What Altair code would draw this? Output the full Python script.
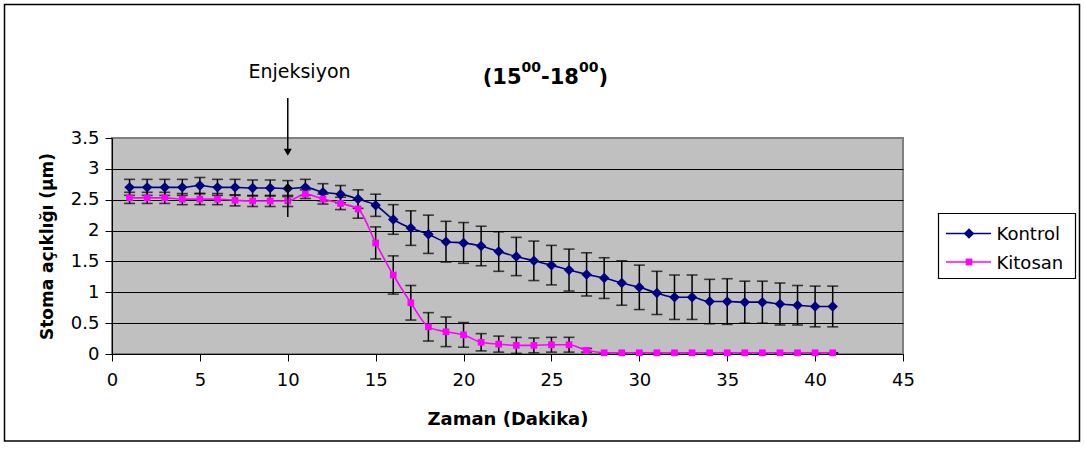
import altair as alt
import pandas as pd

# ---------------- data ----------------
minutes = list(range(1, 42))

kontrol = [2.70, 2.70, 2.70, 2.70, 2.73, 2.70, 2.70, 2.69, 2.69, 2.68,
           2.70, 2.62, 2.59, 2.51, 2.41, 2.18, 2.04, 1.94, 1.82, 1.80,
           1.75, 1.66, 1.58, 1.51, 1.44, 1.36, 1.29, 1.23, 1.15, 1.08,
           0.99, 0.92, 0.92, 0.85, 0.85, 0.84, 0.84, 0.81, 0.79, 0.77, 0.77]
kontrol_err = [0.13, 0.13, 0.13, 0.13, 0.13, 0.13, 0.13, 0.13, 0.13, 0.13,
               0.13, 0.14, 0.14, 0.15, 0.18, 0.24, 0.28, 0.31, 0.33, 0.33,
               0.32, 0.32, 0.31, 0.32, 0.32, 0.34, 0.35, 0.33, 0.36, 0.36,
               0.35, 0.36, 0.36, 0.36, 0.37, 0.34, 0.34, 0.34, 0.32, 0.33, 0.33]

kitosan = [2.53, 2.53, 2.53, 2.51, 2.51, 2.51, 2.49, 2.48, 2.48, 2.48,
           2.59, 2.51, 2.44, 2.35, 1.80, 1.28, 0.83, 0.44, 0.36, 0.31,
           0.19, 0.16, 0.14, 0.14, 0.15, 0.15, 0.06, 0.02, 0.02, 0.02,
           0.02, 0.02, 0.02, 0.02, 0.02, 0.02, 0.02, 0.02, 0.02, 0.02, 0.02]
kitosan_err = [0.09, 0.09, 0.09, 0.09, 0.09, 0.09, 0.09, 0.09, 0.09, 0.09,
               0.07, 0.08, 0.10, 0.15, 0.26, 0.31, 0.28, 0.23, 0.24, 0.20,
               0.14, 0.13, 0.13, 0.12, 0.12, 0.12, 0.03, 0.0, 0.0, 0.0,
               0.0, 0.0, 0.0, 0.0, 0.0, 0.0, 0.0, 0.0, 0.0, 0.0, 0.0]

series_names = ["Kontrol", "Kitosan"]
series_colors = ["#000080", "#FF00FF"]
series_shapes = ["diamond", "square"]
series_sizes = [110, 45]

x_ticks = [0, 5, 10, 15, 20, 25, 30, 35, 40, 45]
y_ticks = [0, 0.5, 1, 1.5, 2, 2.5, 3, 3.5]

# annotation arrows (data coordinates)
inj_arrow_x = [10]
inj_arrow_top = [4.15]
inj_arrow_head = [3.27]
up_arrow_bottom = [2.22]
up_arrow_head = [2.72]

# ---------------- tables ----------------
rows = []
for name, vals, errs in [("Kontrol", kontrol, kontrol_err), ("Kitosan", kitosan, kitosan_err)]:
    for m, v, e in zip(minutes, vals, errs):
        rows.append({"series": name, "t": m, "v": v, "lo": v - e, "hi": v + e})
df = pd.DataFrame(rows)

arrow_df = pd.DataFrame({"t": inj_arrow_x, "top": inj_arrow_top, "head": inj_arrow_head,
                         "ub": up_arrow_bottom, "uh": up_arrow_head})
one = pd.DataFrame({"k": [0]})

FONT = "DejaVu Sans"
PL, PT = 112, 138  # plot origin in page pixels
W, H = 791, 216

xs = alt.Scale(domain=[0, 45], nice=False)
ys = alt.Scale(domain=[0, 3.5], nice=False)
cs = alt.Scale(domain=series_names, range=series_colors)
ss = alt.Scale(domain=series_names, range=series_shapes)

x_axis = alt.Axis(values=x_ticks, grid=False, title="Zaman (Dakika)", format="~g",
                  domainColor="black", tickColor="black", tickSize=7,
                  labelFontSize=18, labelFont=FONT, labelColor="black",
                  labelPadding=10, labelFlush=False, labelOverlap=False,
                  titleFont=FONT, titleFontSize=18, titleFontWeight="bold",
                  titleColor="black", titlePadding=21)
y_axis = alt.Axis(values=y_ticks, grid=True, format="~g", labelOverlap=False,
                  gridColor={"condition": {"test": "datum.value === 3.5", "value": "#808080"},
                             "value": "#000000"},
                  gridWidth=1.2, title="Stoma açıklığı (μm)",
                  domainColor="black", tickColor="black", tickSize=7,
                  labelFontSize=18, labelFont=FONT, labelColor="black",
                  labelPadding=6, labelFlush=False,
                  titleFont=FONT, titleFontSize=17, titleFontWeight="bold",
                  titleColor="black", titlePadding=14)


def XQ(field):
    return alt.X(field, type="quantitative", scale=xs, axis=x_axis)


def YQ(field):
    return alt.Y(field, type="quantitative", scale=ys, axis=y_axis)


base = alt.Chart(df)

err_rule = base.mark_rule(color="black", strokeWidth=1.5).encode(
    x=XQ("t"), y=YQ("lo"), y2="hi:Q")
cap_lo = base.mark_tick(color="black", orient="horizontal", size=11, thickness=1.6).encode(
    x=XQ("t"), y=YQ("lo"))
cap_hi = base.mark_tick(color="black", orient="horizontal", size=11, thickness=1.6).encode(
    x=XQ("t"), y=YQ("hi"))

lines = base.mark_line(strokeWidth=1.6, interpolate="monotone").encode(
    x=XQ("t"), y=YQ("v"), color=alt.Color("series:N", scale=cs, legend=None),
    detail="series:N")
points = base.mark_point(filled=True, opacity=1, strokeWidth=0).encode(
    x=XQ("t"), y=YQ("v"),
    color=alt.Color("series:N", scale=cs, legend=None),
    shape=alt.Shape("series:N", scale=ss, legend=None),
    size=alt.Size("series:N", scale=alt.Scale(domain=series_names, range=series_sizes), legend=None),
    order=alt.Order("series:N", sort="descending"))

ab = alt.Chart(arrow_df)
inj_line = ab.mark_rule(color="black", strokeWidth=1.5).encode(
    x=XQ("t"), y=YQ("top"), y2="head:Q")
inj_head = ab.mark_point(shape="triangle-down", filled=True, color="black", size=64, opacity=1).encode(
    x=XQ("t"), y=YQ("head"))
up_line = ab.mark_rule(color="black", strokeWidth=1.5).encode(
    x=XQ("t"), y=YQ("ub"), y2="uh:Q")
up_head = ab.mark_point(shape="triangle-up", filled=True, color="black", size=64, opacity=1).encode(
    x=XQ("t"), y=YQ("uh"))

oc = alt.Chart(one)


def px(v):
    return alt.value(v - PL)


def py(v):
    return alt.value(v - PT)


frame = oc.mark_rect(fill=None, stroke="black", strokeWidth=1.5).encode(
    x=px(4.5), x2=px(1079.5), y=py(4.5), y2=py(441))


def txt(s, x, y, size, weight="normal", align="left"):
    return oc.mark_text(text=s, font=FONT, fontSize=size, fontWeight=weight,
                        align=align, baseline="alphabetic", color="black").encode(
        x=px(x), y=py(y))


title_parts = [
    txt("(15", 482.7, 84, 21, "bold"),
    txt("00", 521.5, 72, 14, "bold"),
    txt("-18", 541, 84, 21, "bold"),
    txt("00", 578.9, 72, 14, "bold"),
    txt(")", 598.4, 84, 21, "bold"),
]
enj = txt("Enjeksiyon", 299.5, 78, 19, "normal", "center")

# legend (manual, Excel style)
leg_box = oc.mark_rect(fill="white", stroke="black", strokeWidth=1.2).encode(
    x=px(938.5), x2=px(1075.5), y=py(213.5), y2=py(278.5))
leg = [leg_box]
for i, (name, col, shp, sz) in enumerate(zip(series_names, series_colors, series_shapes, series_sizes)):
    yy = 233.5 + i * 28.5
    leg.append(oc.mark_rule(color=col, strokeWidth=1.6).encode(
        x=px(946), x2=px(991), y=py(yy)))
    leg.append(oc.mark_point(shape=shp, filled=True, color=col, size=sz, opacity=1, strokeWidth=0).encode(
        x=px(969), y=py(yy)))
    leg.append(txt(name, 996.5, yy + 6.5, 18))

chart = alt.layer(
    frame, err_rule, cap_lo, cap_hi, lines, points,
    inj_line, inj_head, up_line, up_head,
    *title_parts, enj, *leg
).properties(
    width=W, height=H,
    autosize=alt.AutoSizeParams(type="none"),
    padding={"left": PL, "top": PT, "right": 1084 - PL - W, "bottom": 451 - PT - H},
    background="white",
).configure_view(
    fill="#C0C0C0", stroke="#808080", strokeWidth=2
)

chart.save("out.html", embed_options={"renderer": "svg", "actions": False})
